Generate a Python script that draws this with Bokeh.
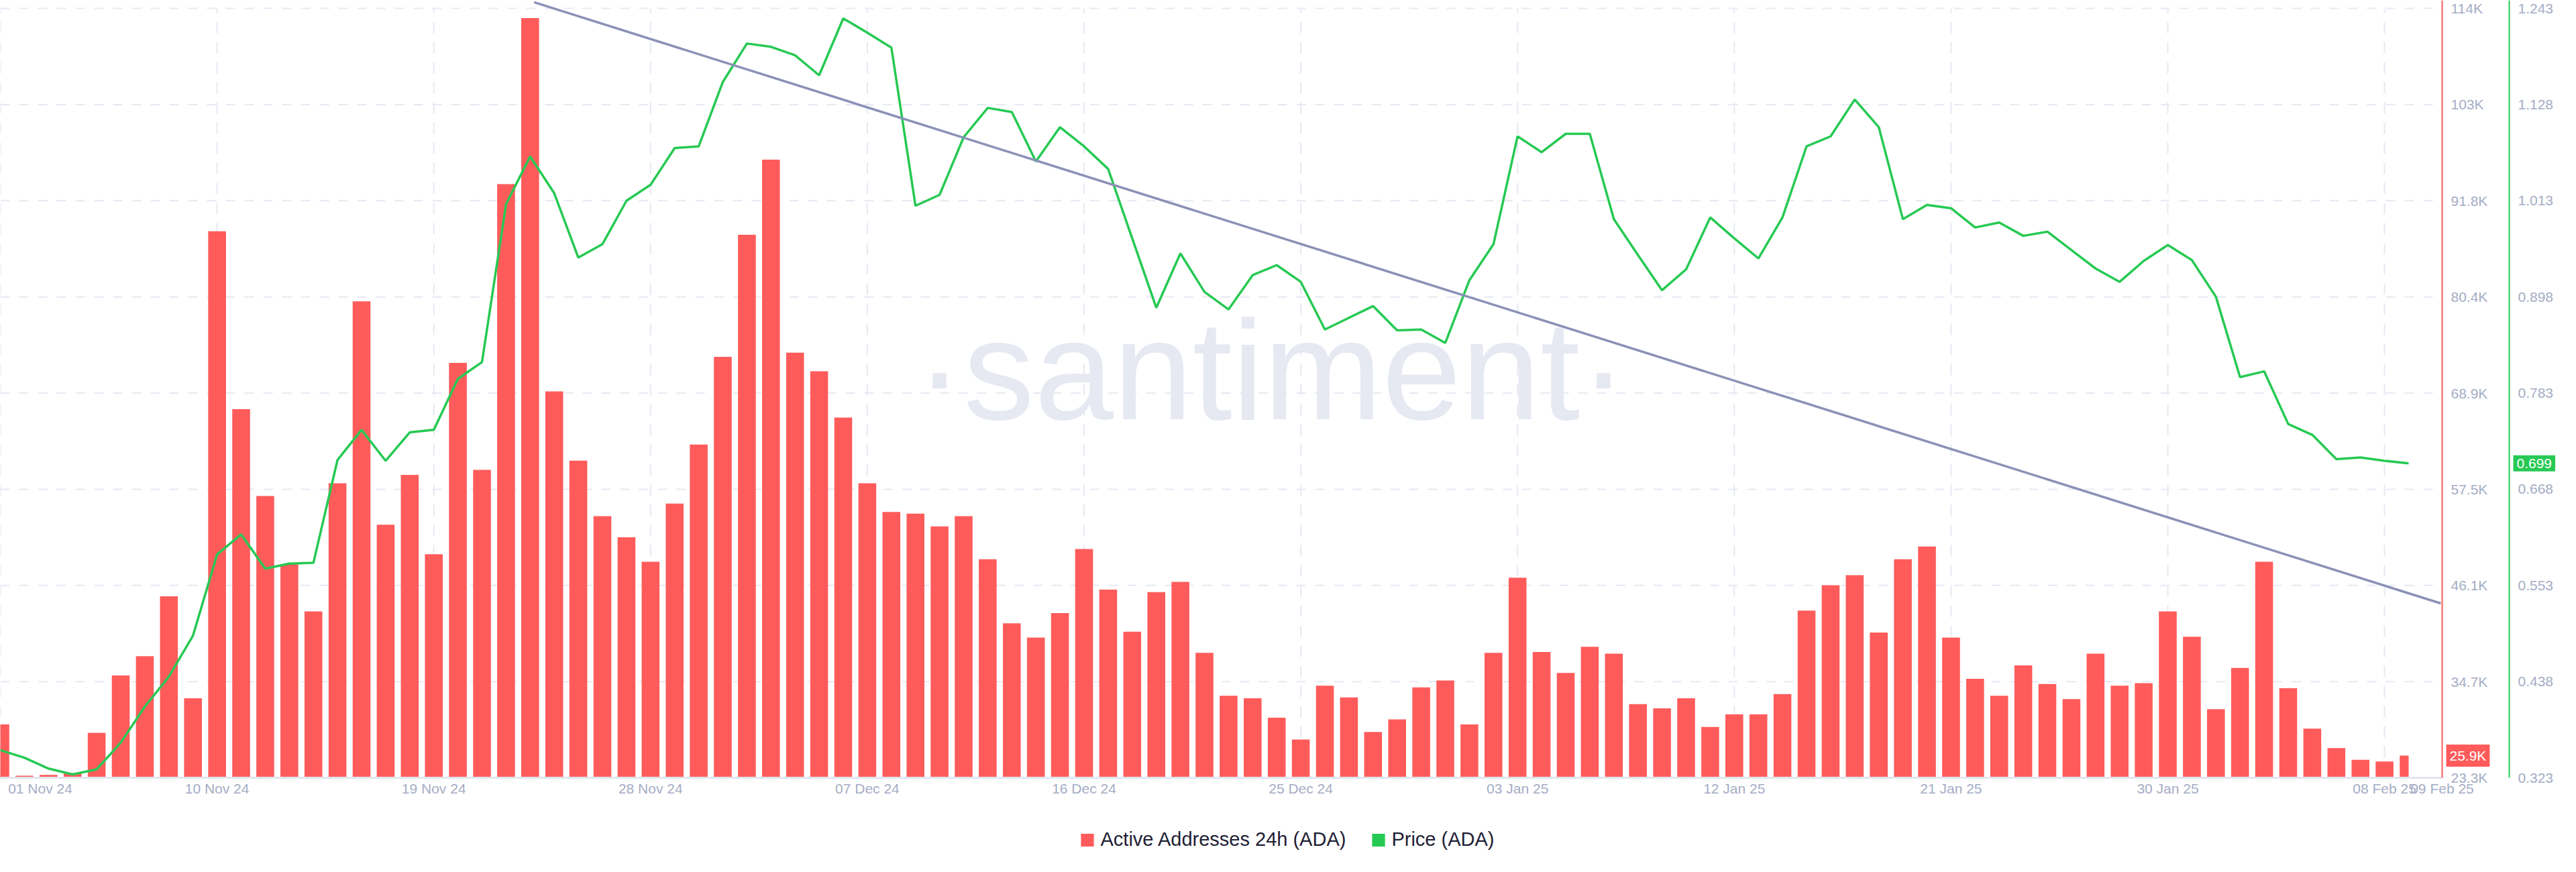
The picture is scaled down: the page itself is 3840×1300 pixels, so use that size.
import pandas as pd
from bokeh.plotting import figure
from bokeh.models import (Range1d, LinearAxis, FixedTicker, NumeralTickFormatter,
                          ColumnDataSource, Legend, LegendItem, Label)
from bokeh.core.properties import value
from bokeh.embed import file_html
from bokeh.resources import INLINE

# ---------------- data ----------------
start_date = "2024-11-01"

active_addresses = [
    29600, 23500, 23600, 23800, 28600, 35400, 37700, 44800, 32700, 88100,
    67000, 56700, 48600, 43000, 58200, 79800, 53300, 59200, 49800, 72500,
    59800, 93700, 113400, 69100, 60900, 54300, 51800, 48900, 55800, 62800,
    73200, 87700, 96600, 73700, 71500, 66000, 58200, 54800, 54600, 53100,
    54300, 49200, 41600, 39900, 42800, 50400, 45600, 40600, 45300, 46500,
    38100, 33000, 32700, 30400, 27800, 34200, 32800, 28700, 30200, 34000,
    34800, 29600, 38100, 47000, 38200, 35700, 38800, 38000, 32000, 31500,
    32700, 29300, 30800, 30800, 33200, 43100, 46100, 47300, 40500, 49200,
    50700, 39900, 35000, 33000, 36600, 34400, 32600, 38000, 34200, 34500,
    43000, 40000, 31400, 36300, 48900, 33900, 29100, 26800, 25400, 25200,
    25900,
]

price = [
    0.356, 0.347, 0.334, 0.327, 0.333, 0.365, 0.408, 0.444, 0.493, 0.590,
    0.614, 0.573, 0.579, 0.580, 0.703, 0.739, 0.702, 0.736, 0.739, 0.800,
    0.820, 1.009, 1.066, 1.022, 0.945, 0.961, 1.013, 1.032, 1.076, 1.078,
    1.155, 1.201, 1.197, 1.187, 1.163, 1.231, 1.214, 1.196, 1.007, 1.020,
    1.089, 1.124, 1.119, 1.060, 1.101, 1.078, 1.051, 0.968, 0.885, 0.950,
    0.904, 0.883, 0.924, 0.936, 0.916, 0.859, 0.873, 0.887, 0.858, 0.859,
    0.843, 0.918, 0.961, 1.090, 1.071, 1.093, 1.093, 0.991, 0.948, 0.906,
    0.931, 0.993, 0.968, 0.944, 0.993, 1.078, 1.090, 1.134, 1.101, 0.991,
    1.008, 1.004, 0.981, 0.987, 0.971, 0.976, 0.954, 0.932, 0.916, 0.941,
    0.960, 0.942, 0.898, 0.802, 0.809, 0.746, 0.733, 0.704, 0.706, 0.702,
    0.699,
]

x_tick_dates = ["2024-11-01", "2024-11-10", "2024-11-19", "2024-11-28",
                "2024-12-07", "2024-12-16", "2024-12-25", "2025-01-03",
                "2025-01-12", "2025-01-21", "2025-01-30", "2025-02-08"]
x_tick_labels = ["01 Nov 24", "10 Nov 24", "19 Nov 24", "28 Nov 24",
                 "07 Dec 24", "16 Dec 24", "25 Dec 24", "03 Jan 25",
                 "12 Jan 25", "21 Jan 25", "30 Jan 25", "08 Feb 25"]
x_end_label = "09 Feb 25"

aa_tick_values = [23270, 34680, 46090, 57500, 68910, 80320, 91730, 103140, 114550]
aa_tick_labels = ["23.3K", "34.7K", "46.1K", "57.5K", "68.9K", "80.4K",
                  "91.8K", "103K", "114K"]
price_tick_values = [0.323, 0.438, 0.553, 0.668, 0.783, 0.898, 1.013, 1.128, 1.243]

trend_dates = ["2024-11-23 04:00", "2025-02-10 08:00"]
trend_values = [115270, 43960]

series_names = ["Active Addresses 24h (ADA)", "Price (ADA)"]

# ---------------- style / layout ----------------
RED = "#ff5b5b"
GREEN = "#26c953"
TREND = "#8a91b7"
GRID = "#e6e9f2"
TICK_TXT = "#a4acc4"
LEGEND_TXT = "#1e2034"
WATERMARK = "#e6e8f2"
FONT = "Liberation Sans"
TICK_SIZE = "21px"

W, H = 3836, 1298
PLOT_W, PLOT_H = 3640, 1159      # chart area (bars / lines) in pixels
PRICE_AXIS_X = 3740              # pixel position of the price axis line
PX_PER_DAY = 35.9
TOP_TICK_PX = 12

dates = pd.date_range(start_date, periods=len(active_addresses), freq="D")
x_start = pd.Timestamp(start_date)
day = pd.Timedelta(days=1)
x_end = x_start + day * (W / PX_PER_DAY)
x_plot_end = x_start + day * (PLOT_W / PX_PER_DAY)
x_price_axis = x_start + day * (PRICE_AXIS_X / PX_PER_DAY)
to_ms = lambda t: int(pd.Timestamp(t).value // 10**6)

aa_per_px = (aa_tick_values[-1] - aa_tick_values[0]) / (PLOT_H - TOP_TICK_PX)
aa_end = aa_tick_values[0] + PLOT_H * aa_per_px
aa_start = aa_tick_values[0] - (H - PLOT_H) * aa_per_px
pr_per_px = (price_tick_values[-1] - price_tick_values[0]) / (PLOT_H - TOP_TICK_PX)
pr_end = price_tick_values[0] + PLOT_H * pr_per_px
pr_start = price_tick_values[0] - (H - PLOT_H) * pr_per_px

p = figure(width=W, height=H, title=None, x_axis_type="datetime",
           y_axis_location="right",
           x_range=Range1d(x_start, x_end),
           y_range=Range1d(aa_start, aa_end),
           output_backend="svg", toolbar_location=None,
           min_border_left=0, min_border_right=0,
           min_border_top=0, min_border_bottom=0,
           background_fill_color="white", border_fill_color="white")
p.outline_line_color = None
p.extra_y_ranges = {"price": Range1d(pr_start, pr_end)}
p.xgrid.visible = False
p.ygrid.visible = False

# watermark
wm = Label(x=to_ms(x_start) + (to_ms(x_plot_end) - to_ms(x_start)) * 1895 / PLOT_W,
           y=aa_tick_values[0] + (PLOT_H - 551) * aa_per_px,
           text="\u00b7santiment\u00b7", text_align="center",
           text_baseline="alphabetic", text_font=FONT, text_font_size="212px",
           text_color=WATERMARK, level="underlay")
p.add_layout(wm)

# dashed grid lines (limited to the chart area)
tick_ts = [pd.Timestamp(d) for d in x_tick_dates]
n_h = len(aa_tick_values) - 1
p.segment(x0=[x_start] * n_h, x1=[x_plot_end] * n_h,
          y0=aa_tick_values[1:], y1=aa_tick_values[1:],
          line_color=GRID, line_width=2, line_dash="14 14")
p.segment(x0=tick_ts, x1=tick_ts,
          y0=[aa_tick_values[0]] * len(tick_ts), y1=[aa_tick_values[-1]] * len(tick_ts),
          line_color=GRID, line_width=2, line_dash="17 13")

# bars
half = pd.Timedelta(hours=24 * 0.74 / 2)
lefts = [d - half for d in dates]
rights = [d + half for d in dates]
rights[-1] = dates[-1]
src = ColumnDataSource(dict(left=lefts, right=rights, top=active_addresses))
bars = p.quad(left="left", right="right", top="top", bottom=aa_tick_values[0],
              source=src, fill_color=RED, line_color=None)

# price line
p.line(dates, price, y_range_name="price", line_color=GREEN, line_width=3.5)

# legend key for price: a zero-area square at the last price point
price_key = p.quad(left=[dates[-1]], right=[dates[-1]], top=[price[-1]],
                   bottom=[price[-1]], y_range_name="price",
                   fill_color=GREEN, line_color=None)

# trend line
p.line(pd.to_datetime(trend_dates), trend_values, line_color=TREND, line_width=3.5)

# ---------------- axes ----------------
xaxis = p.xaxis[0]
tick_ms = [to_ms(d) for d in x_tick_dates]
end_tick = to_ms(x_plot_end - pd.Timedelta(minutes=1))
xaxis.ticker = FixedTicker(ticks=tick_ms + [end_tick])
labels = ["\u00a0\u00a0" + x_tick_labels[0]] + x_tick_labels[1:] + [x_end_label]
xaxis.major_label_overrides = dict(zip(tick_ms + [end_tick], labels))
xaxis.fixed_location = aa_tick_values[0]
xaxis.bounds = (to_ms(x_start), to_ms(x_plot_end))
xaxis.axis_line_color = "#e1e5ef"
xaxis.axis_line_width = 3
xaxis.major_tick_out = 0
xaxis.major_tick_in = 0
xaxis.minor_tick_out = 0
xaxis.minor_tick_in = 0
xaxis.major_label_standoff = 4
xaxis.major_label_text_font = FONT
xaxis.major_label_text_font_size = TICK_SIZE
xaxis.major_label_text_color = TICK_TXT

yaxis = p.yaxis[0]
yaxis.ticker = FixedTicker(ticks=aa_tick_values)
yaxis.major_label_overrides = dict(zip(aa_tick_values, aa_tick_labels))
yaxis.fixed_location = to_ms(x_plot_end)
yaxis.bounds = (aa_tick_values[0], aa_end)
yaxis.axis_line_color = RED

price_axis = LinearAxis(y_range_name="price",
                        ticker=FixedTicker(ticks=price_tick_values),
                        formatter=NumeralTickFormatter(format="0.000"))
price_axis.fixed_location = to_ms(x_price_axis)
price_axis.bounds = (price_tick_values[0], pr_end)
price_axis.axis_line_color = GREEN
p.add_layout(price_axis, "right")

for ax in (yaxis, price_axis):
    ax.axis_line_width = 2
    ax.major_tick_out = 0
    ax.major_tick_in = 0
    ax.minor_tick_out = 0
    ax.minor_tick_in = 0
    ax.major_label_standoff = 13
    ax.major_label_text_font = FONT
    ax.major_label_text_font_size = TICK_SIZE
    ax.major_label_text_color = TICK_TXT

# ---------------- last-value tags ----------------
p.add_layout(Label(x=to_ms(x_plot_end), y=active_addresses[-1], x_offset=6,
                   text=f"{active_addresses[-1] / 1000:.1f}K",
                   text_align="left", text_baseline="middle",
                   text_color="white", text_font=FONT, text_font_size=TICK_SIZE,
                   background_fill_color=RED, padding=5))
p.add_layout(Label(x=to_ms(x_price_axis), y=price[-1], y_range_name="price",
                   x_offset=6, text=f"{price[-1]:.3f}",
                   text_align="left", text_baseline="middle",
                   text_color="white", text_font=FONT, text_font_size=TICK_SIZE,
                   background_fill_color=GREEN, padding=5))

# ---------------- legend ----------------
legend = Legend(items=[LegendItem(label=value(series_names[0]), renderers=[bars]),
                       LegendItem(label=value(series_names[1]), renderers=[price_key])],
                location="bottom_center", orientation="horizontal",
                glyph_width=24, glyph_height=24, label_standoff=8, spacing=36,
                label_height=24, padding=0, margin=30, border_line_color=None,
                background_fill_alpha=0,
                label_text_font=FONT, label_text_font_size="29px",
                label_text_color=LEGEND_TXT)
p.add_layout(legend)

open("out.html", "w").write(file_html(p, INLINE))
